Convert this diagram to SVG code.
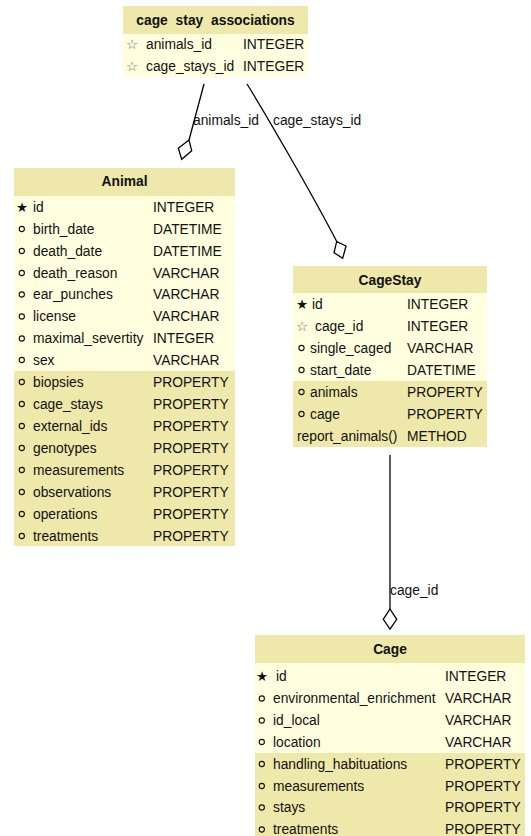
<svg xmlns="http://www.w3.org/2000/svg" width="531" height="836" viewBox="0 0 531 836">
<style>
.hd{fill:#EEE8AA}
.lt{fill:#FFFFE0}
.dk{fill:#EEE8AA}
text{font-family:"Liberation Sans",Arial,sans-serif;font-size:13.8px;fill:#111}
.t{font-weight:bold;text-anchor:middle}
.ic{font-family:"DejaVu Sans",sans-serif;font-size:13.5px}
.fk{fill:#666}
.dot{fill:none;stroke:#111;stroke-width:1.1}
.edge{fill:none;stroke:#000;stroke-width:1.3}
.dia{fill:#fff;stroke:#000;stroke-width:1.3}
</style>
<defs>
<circle id="o" r="2.6" class="dot"/>
</defs>
<g id="connectors">
<path class="edge" d="M204,84 L189,140"/>
<polygon class="dia" points="189,140 178.3,148.3 181.7,159.3 191.7,150.7"/>
<text x="193" y="125">animals_id</text>
<path class="edge" d="M247,84 C262,108 310,190 337,242"/>
<polygon class="dia" points="336.7,241.7 346,246 342.7,258.3 334,252.7"/>
<text x="273" y="125">cage_stays_id</text>
<path class="edge" d="M390,455 L390,609"/>
<polygon class="dia" points="390,609 396.7,619.3 390,629 383.3,619.3"/>
<text x="390" y="595">cage_id</text>
</g>
<g id="cage_stay_associations">
<rect class="hd" x="123" y="6" width="185" height="28"/>
<rect class="lt" x="123" y="34" width="185" height="43"/>
<text class="t" x="215.5" y="25" word-spacing="4">cage stay associations</text>
<text class="ic fk" x="126" y="49">☆</text><text x="146" y="49">animals_id</text><text x="243" y="49">INTEGER</text>
<text class="ic fk" x="126" y="71">☆</text><text x="146" y="71">cage_stays_id</text><text x="243" y="71">INTEGER</text>
</g>
<g id="Animal">
<rect class="hd" x="14" y="168" width="221" height="28"/>
<rect class="lt" x="14" y="196" width="221" height="175"/>
<rect class="dk" x="14" y="371" width="221" height="175"/>
<text class="t" x="124.5" y="186">Animal</text>
<text class="ic" x="16" y="211.5">★</text><text x="33" y="211.5">id</text><text x="153" y="211.5">INTEGER</text>
<use href="#o" x="21.8" y="229"/><text x="33" y="233.5">birth_date</text><text x="153" y="233.5">DATETIME</text>
<use href="#o" x="21.8" y="251"/><text x="33" y="255.5">death_date</text><text x="153" y="255.5">DATETIME</text>
<use href="#o" x="21.8" y="273"/><text x="33" y="277.5">death_reason</text><text x="153" y="277.5">VARCHAR</text>
<use href="#o" x="21.8" y="294.5"/><text x="33" y="299">ear_punches</text><text x="153" y="299">VARCHAR</text>
<use href="#o" x="21.8" y="316.5"/><text x="33" y="321">license</text><text x="153" y="321">VARCHAR</text>
<use href="#o" x="21.8" y="338.5"/><text x="33" y="343">maximal_severtity</text><text x="153" y="343">INTEGER</text>
<use href="#o" x="21.8" y="360"/><text x="33" y="364.5">sex</text><text x="153" y="364.5">VARCHAR</text>
<use href="#o" x="21.8" y="382"/><text x="33" y="386.5">biopsies</text><text x="153" y="386.5">PROPERTY</text>
<use href="#o" x="21.8" y="404"/><text x="33" y="408.5">cage_stays</text><text x="153" y="408.5">PROPERTY</text>
<use href="#o" x="21.8" y="426"/><text x="33" y="430.5">external_ids</text><text x="153" y="430.5">PROPERTY</text>
<use href="#o" x="21.8" y="448"/><text x="33" y="452.5">genotypes</text><text x="153" y="452.5">PROPERTY</text>
<use href="#o" x="21.8" y="470"/><text x="33" y="474.5">measurements</text><text x="153" y="474.5">PROPERTY</text>
<use href="#o" x="21.8" y="492"/><text x="33" y="496.5">observations</text><text x="153" y="496.5">PROPERTY</text>
<use href="#o" x="21.8" y="514"/><text x="33" y="518.5">operations</text><text x="153" y="518.5">PROPERTY</text>
<use href="#o" x="21.8" y="536"/><text x="33" y="540.5">treatments</text><text x="153" y="540.5">PROPERTY</text>
</g>
<g id="CageStay">
<rect class="hd" x="293" y="266" width="194" height="27"/>
<rect class="lt" x="293" y="293" width="194" height="88"/>
<rect class="dk" x="293" y="381" width="194" height="66"/>
<text class="t" x="390" y="285">CageStay</text>
<text class="ic" x="296" y="308.5">★</text><text x="312" y="308.5">id</text><text x="407" y="308.5">INTEGER</text>
<text class="ic fk" x="296" y="330.5">☆</text><text x="315" y="330.5">cage_id</text><text x="407" y="330.5">INTEGER</text>
<use href="#o" x="301.5" y="348"/><text x="310" y="352.5">single_caged</text><text x="407" y="352.5">VARCHAR</text>
<use href="#o" x="301.5" y="370"/><text x="310" y="374.5">start_date</text><text x="407" y="374.5">DATETIME</text>
<use href="#o" x="301.5" y="392"/><text x="310" y="396.5">animals</text><text x="407" y="396.5">PROPERTY</text>
<use href="#o" x="301.5" y="414"/><text x="310" y="418.5">cage</text><text x="407" y="418.5">PROPERTY</text>
<text x="297" y="440.5">report_animals()</text><text x="407" y="440.5">METHOD</text>
</g>
<g id="Cage">
<rect class="hd" x="255" y="635" width="270" height="28"/>
<rect class="lt" x="255" y="663" width="270" height="90"/>
<rect class="dk" x="255" y="753" width="270" height="90"/>
<text class="t" x="390" y="654">Cage</text>
<text class="ic" x="256" y="681">★</text><text x="276" y="681">id</text><text x="445" y="681">INTEGER</text>
<use href="#o" x="261.8" y="698.5"/><text x="273" y="703">environmental_enrichment</text><text x="445" y="703">VARCHAR</text>
<use href="#o" x="261.8" y="720.5"/><text x="273" y="725">id_local</text><text x="445" y="725">VARCHAR</text>
<use href="#o" x="261.8" y="742"/><text x="273" y="746.5">location</text><text x="445" y="746.5">VARCHAR</text>
<use href="#o" x="261.8" y="764"/><text x="273" y="768.5">handling_habituations</text><text x="445" y="768.5">PROPERTY</text>
<use href="#o" x="261.8" y="786"/><text x="273" y="790.5">measurements</text><text x="445" y="790.5">PROPERTY</text>
<use href="#o" x="261.8" y="807.5"/><text x="273" y="812">stays</text><text x="445" y="812">PROPERTY</text>
<use href="#o" x="261.8" y="829.5"/><text x="273" y="834">treatments</text><text x="445" y="834">PROPERTY</text>
</g>
</svg>
